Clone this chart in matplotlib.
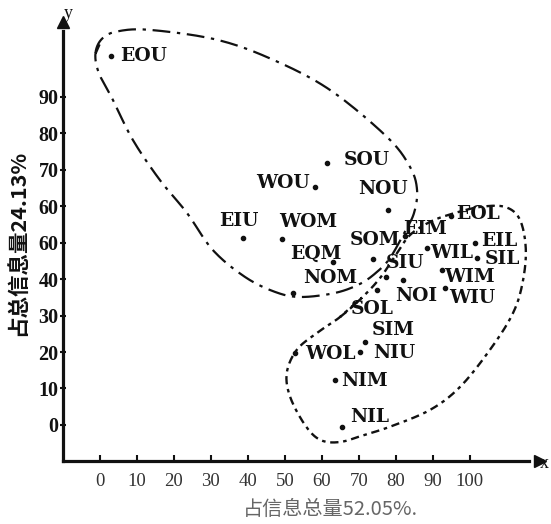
import numpy as np
import matplotlib
matplotlib.use("Agg")
import matplotlib.pyplot as plt

# 各组合的名称与坐标（x: 占信息总量52.05%, y: 占总信息量24.13%）
names = ["EOU", "SOU", "WOU", "EIU", "WOM", "EQM", "NOM", "NOU", "SOM", "EIM",
         "EOL", "EIL", "WIL", "SIL", "SIU", "WIM", "NOI", "WIU", "SOL", "SIM",
         "WOL", "NIU", "NIM", "NIL"]
xs = [3.0, 61.4, 58.1, 38.6, 49.2, 63.0, 52.2, 77.8, 73.8, 82.4,
      95.0, 101.4, 88.4, 101.9, 77.3, 92.4, 81.9, 93.2, 74.9, 71.6,
      52.7, 70.3, 63.5, 65.4]
ys = [101.3, 71.9, 65.3, 51.3, 51.0, 44.7, 36.2, 59.0, 45.6, 51.9,
      57.4, 49.9, 48.6, 45.8, 40.6, 42.5, 39.8, 37.6, 37.0, 22.8,
      19.8, 20.0, 12.3, -0.5]

# 标签相对点的偏移（像素）
label_dx = [33, 40, -32, -4, 26, -17, 37, -5, 2, 20,
            27, 24, 25, 25, 19, 28, 13, 27, -5, 28,
            35, 34, 30, 28]
label_dy = [0, 3, 4, 17, 17, 8, 15, 21, 19, 7,
            2, 2, -5, -1, 14, -7, -16, -10, -19, 12,
            -1, -1, -1, 10]

x_ticks = [0, 10, 20, 30, 40, 50, 60, 70, 80, 90, 100]
y_ticks = [0, 10, 20, 30, 40, 50, 60, 70, 80, 90]
y_ticklabels = ["0", "10", "20", "30", "40", "60", "60", "70", "80", "90"]

# 两个手绘分组圈
upper_x = [-1.2, 0.6, 4.8, 13.5, 31.6, 46.8, 62.2, 77.6, 83.8, 85.7, 84.9, 82.4, 78.4,
           74.9, 70.3, 63.5, 54.1, 47.3, 39.2, 30.5, 23.5, 16.2, 8.9, 3.5, -0.3]
upper_y = [102.0, 106.0, 108.0, 108.4, 105.7, 100.2, 91.9, 79.0, 70.8, 64.5, 58.2, 53.0, 45.8,
           42.0, 38.7, 36.2, 35.1, 36.5, 40.6, 48.0, 58.2, 67.2, 78.2, 89.2, 96.6]
lower_x = [64.9, 70.8, 75.7, 80.0, 83.8, 89.2, 95.1, 102.7, 109.5, 113.5, 115.1, 114.1,
           111.4, 105.4, 97.3, 89.2, 78.4, 71.6, 64.9, 59.5, 55.4, 51.4, 50.5, 53.2, 58.6]
lower_y = [29.6, 34.9, 40.3, 46.7, 52.1, 55.7, 57.9, 59.8, 59.8, 56.3, 48.0, 38.4,
           30.2, 20.6, 10.4, 4.1, -0.5, -2.7, -4.7, -4.1, 0.0, 7.7, 14.3, 20.6, 25.2]


def closed_spline(px, py, n=20):
    # Catmull-Rom 闭合曲线
    p = np.column_stack([px, py])
    m = len(p)
    out = []
    for i in range(m):
        p0, p1, p2, p3 = p[i - 1], p[i], p[(i + 1) % m], p[(i + 2) % m]
        t = np.linspace(0, 1, n, endpoint=False)[:, None]
        seg = 0.5 * ((2 * p1) + (-p0 + p2) * t + (2 * p0 - 5 * p1 + 4 * p2 - p3) * t ** 2
                     + (-p0 + 3 * p1 - 3 * p2 + p3) * t ** 3)
        out.append(seg)
    out.append(p[1:2])
    out = np.vstack(out)
    return out[:, 0], out[:, 1]


ink = "#111111"
cjk = ["Noto Sans CJK SC", "DejaVu Sans"]
fig = plt.figure(figsize=(5.51, 5.24), dpi=100)
ax = fig.add_axes([0, 0, 1, 1])
ax.set_xlim(-27.0, 121.9)
ax.set_ylim(-27.2, 116.6)

# 坐标轴
for s in ["top", "right"]:
    ax.spines[s].set_visible(False)
ax.spines["left"].set_position(("data", -10))
ax.spines["bottom"].set_position(("data", -9.9))
ax.spines["left"].set_bounds(-9.9, 108)
ax.spines["bottom"].set_bounds(-10, 116)
for s in ["left", "bottom"]:
    ax.spines[s].set_linewidth(2.3)
    ax.spines[s].set_color(ink)
ax.plot([118.9], [-9.9], marker=">", ms=9, color=ink, clip_on=False)
ax.plot([-10], [110.6], marker="^", ms=9, color=ink, clip_on=False)
ax.text(120.2, -10.6, "x", fontsize=13, family="Liberation Serif", color=ink,
        ha="center", va="center")
ax.text(-8.6, 112.8, "y", fontsize=13, family="Liberation Serif", color=ink,
        ha="center", va="center")

ax.set_xticks(x_ticks)
ax.set_xticklabels([str(v) for v in x_ticks], family="Liberation Serif",
                   fontsize=13.5, color="#333333")
ax.set_yticks(y_ticks)
ax.set_yticklabels(y_ticklabels, family="Liberation Serif", fontsize=14.5,
                   fontweight="bold", color=ink)
ax.tick_params(axis="x", direction="in", length=4, width=1.5, pad=9, colors=ink)
ax.tick_params(axis="y", direction="inout", length=4, width=1.5, pad=1, colors=ink)
for lab in ax.get_xticklabels():
    lab.set_color("#333333")

# 轴标题
fig.text(330 / 551, 1 - 509 / 524, "占信息总量52.05%.", family=cjk,
         fontsize=14.5, color="#666666", ha="center", va="center")
fig.text(19 / 551, 1 - 243 / 524, "占总信息量24.13%", family=cjk,
         fontsize=15.5, fontweight="bold", color=ink, rotation=90,
         ha="center", va="center")

# 分组圈
ux, uy = closed_spline(upper_x, upper_y)
ax.plot(ux, uy, color=ink, lw=1.6, linestyle=(0, (8, 3, 1.5, 3)))
lx, ly = closed_spline(lower_x, lower_y)
ax.plot(lx, ly, color=ink, lw=1.7, linestyle=(0, (3.5, 2, 1.5, 2)))

# 点与标签
ax.plot(xs, ys, "o", ms=3.0, color=ink, linestyle="none")
for name, x, y, dx, dy in zip(names, xs, ys, label_dx, label_dy):
    ax.annotate(name, (x, y), xytext=(dx, dy), textcoords="offset pixels",
                ha="center", va="center", fontsize=13.5, fontweight="bold",
                family="DejaVu Serif", color=ink)

fig.savefig("out.png", dpi=100, facecolor="white")
